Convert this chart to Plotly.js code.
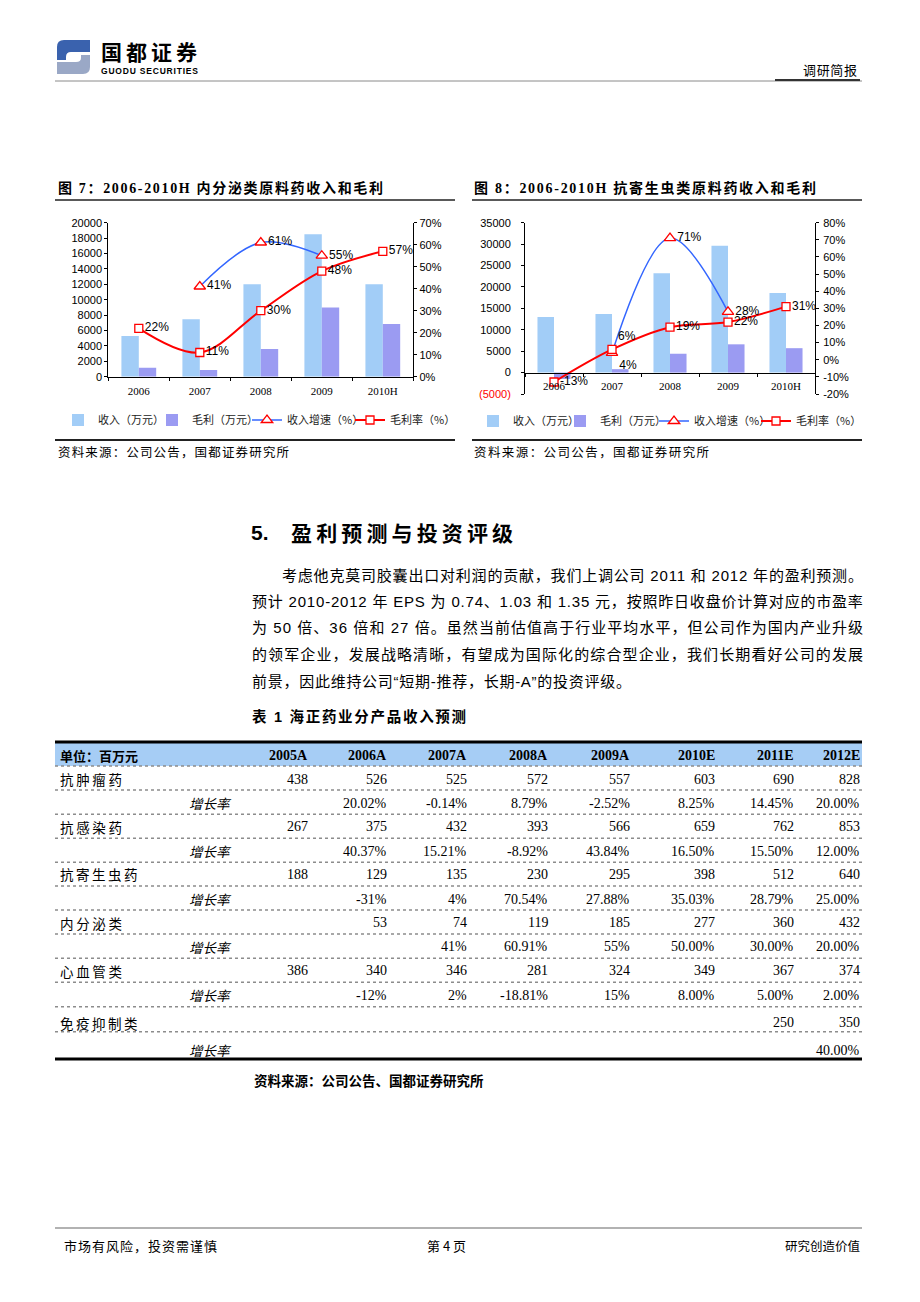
<!DOCTYPE html>
<html>
<head>
<meta charset="utf-8">
<script src="https://cdn.plot.ly/plotly-3.0.1.min.js"></script>
<style>
html,body{margin:0;padding:0;background:#fff;}
#page{width:920px;height:1302px;}
</style>
</head>
<body>
<div id="page"></div>
<script>
// ---------------- DATA ----------------
const years = ['2006', '2007', '2008', '2009', '2010H'];
const legendNames = ['收入（万元）', '毛利（万元）', '收入增速（%）', '毛利率（%）'];

// Figure 7: endocrine APIs
const endoRevenue = [5300, 7450, 12000, 18500, 12000];
const endoGross = [1150, 870, 3600, 9000, 6850];
const endoGrowth = [null, 0.41, 0.61, 0.55, null];
const endoMargin = [0.22, 0.11, 0.30, 0.48, 0.57];
const endoLeftTicks = [0, 2000, 4000, 6000, 8000, 10000, 12000, 14000, 16000, 18000, 20000];
const endoRightTicks = [0, 0.1, 0.2, 0.3, 0.4, 0.5, 0.6, 0.7];
const endoRightLabels = ['0%', '10%', '20%', '30%', '40%', '50%', '60%', '70%'];

// Figure 8: antiparasitic APIs
const paraRevenue = [13000, 13700, 23200, 29600, 18600];
const paraGross = [-1500, 800, 4400, 6600, 5700];
const paraGrowth = [null, 0.04, 0.71, 0.28, null];
const paraMargin = [-0.13, 0.06, 0.19, 0.22, 0.31];
const paraLeftTicks = [-5000, 0, 5000, 10000, 15000, 20000, 25000, 30000, 35000];
const paraLeftLabels = ['(5000)', '0', '5000', '10000', '15000', '20000', '25000', '30000', '35000'];
const paraRightTicks = [-0.2, -0.1, 0, 0.1, 0.2, 0.3, 0.4, 0.5, 0.6, 0.7, 0.8];
const paraRightLabels = ['-20%', '-10%', '0%', '10%', '20%', '30%', '40%', '50%', '60%', '70%', '80%'];

// Table 1
const tableHeader = ['2005A', '2006A', '2007A', '2008A', '2009A', '2010E', '2011E', '2012E'];
const products = ['抗肿瘤药', '抗感染药', '抗寄生虫药', '内分泌类', '心血管类', '免疫抑制类'];
const antitumor = ['438', '526', '525', '572', '557', '603', '690', '828'];
const antitumorGrowth = ['', '20.02%', '-0.14%', '8.79%', '-2.52%', '8.25%', '14.45%', '20.00%'];
const antiinfective = ['267', '375', '432', '393', '566', '659', '762', '853'];
const antiinfectiveGrowth = ['', '40.37%', '15.21%', '-8.92%', '43.84%', '16.50%', '15.50%', '12.00%'];
const antiparasitic = ['188', '129', '135', '230', '295', '398', '512', '640'];
const antiparasiticGrowth = ['', '-31%', '4%', '70.54%', '27.88%', '35.03%', '28.79%', '25.00%'];
const endocrine = ['', '53', '74', '119', '185', '277', '360', '432'];
const endocrineGrowth = ['', '', '41%', '60.91%', '55%', '50.00%', '30.00%', '20.00%'];
const cardiovascular = ['386', '340', '346', '281', '324', '349', '367', '374'];
const cardiovascularGrowth = ['', '-12%', '2%', '-18.81%', '15%', '8.00%', '5.00%', '2.00%'];
const immuno = ['', '', '', '', '', '', '250', '350'];
const immunoGrowth = ['', '', '', '', '', '', '', '40.00%'];
const growthLabel = '增长率';

// ---------------- PAGE GEOMETRY ----------------
const W = 920, H = 1302;
const X = v => v / W;
const Y = v => 1 - v / H;
const SANS = "'Liberation Sans', Arial, 'Noto Sans CJK SC', sans-serif";
const SERIF = "'Liberation Serif', 'Times New Roman', 'Noto Sans CJK SC', serif";
const CJK = "'Noto Sans CJK SC', sans-serif";

const annotations = [];
const shapes = [];
const ctx = document.createElement('canvas').getContext('2d');
function measure(str, size, family, bold) {
  ctx.font = (bold ? 'bold ' : '') + size + 'px ' + family;
  return ctx.measureText(str).width;
}
function txt(text, x, y, o) {
  o = o || {};
  annotations.push({
    xref: 'paper', yref: 'paper', x: X(x), y: Y(y), text: text,
    showarrow: false, xanchor: o.anchor || 'left', yanchor: 'middle',
    align: o.anchor || 'left', borderpad: 0,
    font: {family: o.family || CJK, size: o.size || 13, color: o.color || '#000'}
  });
}
// text spread to a given width via letter-spacing
function jtxt(str, x0, x1, y, size, family, bold) {
  const n = Array.from(str).length;
  const w = measure(str, size, family, bold);
  const ls = Math.max(0, (x1 - x0 - w) / (n - 1));
  let t = '<span style="letter-spacing:' + ls.toFixed(2) + 'px">' + str + '</span>';
  if (bold) t = '<b>' + t + '</b>';
  txt(t, x0, y, {family: family, size: size});
}
function hline(x0, x1, y, color, width, dash) {
  shapes.push({type: 'line', xref: 'paper', yref: 'paper', x0: X(x0), x1: X(x1), y0: Y(y), y1: Y(y),
    line: {color: color, width: width, dash: dash || 'solid'}});
}
function rect(x0, y0, x1, y1, fill) {
  shapes.push({type: 'rect', xref: 'paper', yref: 'paper', x0: X(x0), x1: X(x1), y0: Y(y1), y1: Y(y0),
    fillcolor: fill, line: {width: 0}, layer: 'below'});
}
function path(pts, fill) {
  let d = '';
  pts.forEach(p => {
    d += p[0];
    for (let i = 1; i < p.length; i += 2) d += ' ' + X(p[i]).toFixed(5) + ',' + Y(p[i + 1]).toFixed(5) + ' ';
  });
  shapes.push({type: 'path', xref: 'paper', yref: 'paper', path: d + 'Z', fillcolor: fill, line: {width: 0}});
}

// ---------------- HEADER ----------------
path([['M', 90, 40], ['L', 64, 40], ['Q', 57, 40, 57, 47], ['L', 57, 60], ['L', 66, 60], ['L', 66, 57], ['Q', 66, 52, 71, 52], ['L', 90, 52]], '#3A62AE');
path([['M', 57, 74], ['L', 83, 74], ['Q', 90, 74, 90, 67], ['L', 90, 55], ['L', 81, 55], ['L', 81, 58], ['Q', 81, 62, 76, 62], ['L', 57, 62]], '#9AA8C6');
jtxt('国都证券', 100, 196, 51.5, 21, CJK, true);
jtxt('GUODU SECURITIES', 100, 197, 71, 8.5, SANS, true);
jtxt('调研简报', 802, 856, 70, 13, CJK, false);
hline(55, 862, 81, '#8a8a8a', 1);
hline(775, 860, 80, '#333', 2);

// ---------------- CHART TITLES / SOURCES ----------------
jtxt('图 7：2006-2010H 内分泌类原料药收入和毛利', 57, 382, 188, 14, SERIF, true);
jtxt('图 8：2006-2010H 抗寄生虫类原料药收入和毛利', 473, 815, 188, 14, SERIF, true);
hline(55, 455, 200, '#222', 1.5);
hline(472, 862, 200, '#222', 1.5);
hline(55, 455, 440, '#222', 2);
hline(472, 862, 440, '#222', 2);
jtxt('资料来源：公司公告，国都证券研究所', 57, 288, 452, 12.5, CJK, false);
jtxt('资料来源：公司公告，国都证券研究所', 473, 708, 452, 12.5, CJK, false);

// ---------------- SECTION TEXT ----------------
txt('<b>5.</b>', 250, 532, {family: SANS, size: 21});
jtxt('盈利预测与投资评级', 290, 512, 532, 21, CJK, true);
const PF = "'Liberation Sans', 'Noto Sans CJK SC', sans-serif";
jtxt('考虑他克莫司胶囊出口对利润的贡献，我们上调公司 2011 和 2012 年的盈利预测。', 281, 862, 575, 15, PF, false);
jtxt('预计 2010-2012 年 EPS 为 0.74、1.03 和 1.35 元，按照昨日收盘价计算对应的市盈率', 251, 862, 601, 15, PF, false);
jtxt('为 50 倍、36 倍和 27 倍。虽然当前估值高于行业平均水平，但公司作为国内产业升级', 251, 862, 627, 15, PF, false);
jtxt('的领军企业，发展战略清晰，有望成为国际化的综合型企业，我们长期看好公司的发展', 251, 862, 654, 15, PF, false);
jtxt('前景，因此维持公司“短期-推荐，长期-A”的投资评级。', 251, 630, 681, 15, PF, false);

// ---------------- TABLE ----------------
jtxt('表 1 海正药业分产品收入预测', 251, 465, 716, 14.5, PF, true);
rect(55, 743, 862, 766, '#A6CDF5');
hline(55, 862, 742, '#000', 3);
const colRight = [309, 388, 468, 549, 631, 716, 795, 861];
const rowY = [779.3, 803.3, 826.7, 851, 874.3, 899.3, 922.7, 946.7, 970.7, 995, 1022.7, 1050];
const sepY = [766, 790, 814.3, 838.3, 862.3, 886, 910, 934, 958.3, 982.3, 1006.7, 1031.7];
sepY.forEach(y => hline(55, 862, y, '#8c8c8c', 1.5, 'dot'));
hline(55, 862, 1059, '#000', 3);
txt('<b>单位：百万元</b>', 59, 755, {size: 13});
tableHeader.forEach((h, i) => txt('<b>' + h + '</b>', colRight[i], 755, {anchor: 'right', family: SERIF, size: 14}));
const tableRows = [
  [antitumor, antitumorGrowth], [antiinfective, antiinfectiveGrowth], [antiparasitic, antiparasiticGrowth],
  [endocrine, endocrineGrowth], [cardiovascular, cardiovascularGrowth], [immuno, immunoGrowth]
];
tableRows.forEach((pair, p) => {
  const yv = rowY[2 * p], yg = rowY[2 * p + 1];
  jtxt(products[p], 59, 59 + products[p].length * 15.5, yv, 13.5, CJK, false);
  txt('<i>' + growthLabel + '</i>', 188, yg, {size: 13.5});
  pair[0].forEach((v, i) => { if (v) txt(v, colRight[i], yv, {anchor: 'right', family: SERIF, size: 14}); });
  pair[1].forEach((v, i) => { if (v) txt(v, colRight[i], yg, {anchor: 'right', family: SERIF, size: 14}); });
});
txt('<b>资料来源：公司公告、国都证券研究所</b>', 253, 1080, {size: 13.5});

// ---------------- FOOTER ----------------
hline(55, 862, 1228, '#999', 1.5);
jtxt('市场有风险，投资需谨慎', 63, 216, 1245, 13, CJK, false);
txt('第 4 页', 446, 1245, {anchor: 'center', size: 13});
jtxt('研究创造价值', 784, 859, 1245, 12.5, CJK, false);

// ---------------- CHART TRACES ----------------
const REV = '#A2CDF7', GROSS = '#9B9BF2', BLUE = '#3366FF', RED = '#FF0000';
function barTrace(y, xa, ya, name, color, leg) {
  return {type: 'bar', x: years, y: y, xaxis: xa, yaxis: ya, name: name, legend: leg,
    marker: {color: color, line: {width: 0}}, hoverinfo: 'skip'};
}
function lineTrace(y, xa, ya, name, color, width, symbol, size, leg) {
  return {type: 'scatter', mode: 'lines+markers', x: years, y: y, xaxis: xa, yaxis: ya, name: name, legend: leg,
    line: {color: color, width: width, shape: 'spline', smoothing: 1},
    marker: {symbol: symbol, size: size, color: '#fff', line: {color: RED, width: 1.3}},
    connectgaps: false, cliponaxis: false, hoverinfo: 'skip'};
}
function labelTrace(y, xa, ya, pos, size) {
  return {type: 'scatter', mode: 'markers+text', x: years, y: y, xaxis: xa, yaxis: ya,
    text: y.map(v => v == null ? '' : Math.round(v * 100) + '%'), textposition: pos,
    textfont: {family: SANS, size: 12, color: '#000'},
    marker: {size: size, color: 'rgba(0,0,0,0)'}, showlegend: false, cliponaxis: false, hoverinfo: 'skip'};
}
const traces = [
  barTrace(endoRevenue, 'x', 'y', legendNames[0], REV, 'legend'),
  barTrace(endoGross, 'x', 'y', legendNames[1], GROSS, 'legend2'),
  lineTrace(endoGrowth, 'x', 'y2', legendNames[2], BLUE, 1.5, 'triangle-up', 10, 'legend3'),
  lineTrace(endoMargin, 'x', 'y2', legendNames[3], RED, 2, 'square', 8, 'legend4'),
  labelTrace(endoGrowth, 'x', 'y2', 'middle right', 10),
  labelTrace(endoMargin, 'x', 'y2', 'middle right', 8),
  barTrace(paraRevenue, 'x2', 'y3', legendNames[0], REV, 'legend5'),
  barTrace(paraGross, 'x2', 'y3', legendNames[1], GROSS, 'legend6'),
  lineTrace(paraGrowth, 'x2', 'y4', legendNames[2], BLUE, 1.5, 'triangle-up', 10, 'legend7'),
  lineTrace(paraMargin, 'x2', 'y4', legendNames[3], RED, 2, 'square', 8, 'legend8'),
  labelTrace(paraGrowth, 'x2', 'y4', ['middle right', 'bottom right', 'middle right', 'middle right', 'middle right'], 10),
  labelTrace(paraMargin, 'x2', 'y4', ['middle right', 'top right', 'middle right', 'middle right', 'middle right'], 8)
];

// ---------------- LAYOUT ----------------
const axBase = {showgrid: false, zeroline: false, showline: true, linecolor: '#000', linewidth: 1,
  ticks: 'outside', tickcolor: '#000', tickwidth: 1, ticklen: 3, fixedrange: true};
const yFont = {family: SANS, size: 11, color: '#000'};
const xFont = {family: SERIF, size: 11, color: '#000'};
function leg(x, y) {
  return {x: X(x), xanchor: 'left', y: Y(y), yanchor: 'middle', orientation: 'h',
    bgcolor: 'rgba(0,0,0,0)', borderwidth: 0, itemwidth: 30,
    font: {family: CJK, size: 11, color: '#222'}};
}
const layout = {
  width: W, height: H, margin: {l: 0, r: 0, t: 0, b: 0},
  paper_bgcolor: '#fff', plot_bgcolor: 'rgba(0,0,0,0)',
  showlegend: true, barmode: 'group', bargap: 0.43, bargroupgap: 0,
  xaxis: Object.assign({}, axBase, {domain: [X(108.3), X(413.3)], anchor: 'y', type: 'category',
    categoryorder: 'array', categoryarray: years, range: [-0.5, 4.5], tickson: 'boundaries',
    tickfont: xFont, ticklabelstandoff: 4}),
  yaxis: Object.assign({}, axBase, {domain: [Y(376.7), Y(222.7)], anchor: 'x', range: [0, 20000],
    tickvals: endoLeftTicks, ticktext: endoLeftTicks.map(String), tickfont: yFont}),
  yaxis2: Object.assign({}, axBase, {overlaying: 'y', side: 'right', anchor: 'x', range: [0, 0.7],
    tickvals: endoRightTicks, ticktext: endoRightLabels, tickfont: yFont}),
  xaxis2: Object.assign({}, axBase, {domain: [X(525), X(815)], anchor: 'free', position: Y(372.6), type: 'category',
    categoryorder: 'array', categoryarray: years, range: [-0.5, 4.5], tickson: 'boundaries',
    tickfont: xFont, ticklabelstandoff: 3}),
  yaxis3: Object.assign({}, axBase, {domain: [Y(394), Y(222.7)], anchor: 'x2', range: [-5000, 35000],
    tickvals: paraLeftTicks,
    ticktext: paraLeftLabels.map(t => t.charAt(0) === '(' ? '<span style="color:#FF0000">' + t + '</span>' : t),
    tickfont: yFont, ticklabelstandoff: 8}),
  yaxis4: Object.assign({}, axBase, {overlaying: 'y3', side: 'right', anchor: 'x2', range: [-0.2, 0.8],
    tickvals: paraRightTicks, ticktext: paraRightLabels, tickfont: yFont, ticklabelstandoff: 2}),
  legend: leg(58, 420), legend2: leg(152, 420), legend3: leg(247, 420), legend4: leg(350, 420),
  legend5: leg(473, 421), legend6: leg(560, 421), legend7: leg(654, 421), legend8: leg(756, 421),
  annotations: annotations,
  shapes: shapes
};

Plotly.newPlot('page', traces, layout, {staticPlot: true, displayModeBar: false});
</script>
</body>
</html>
